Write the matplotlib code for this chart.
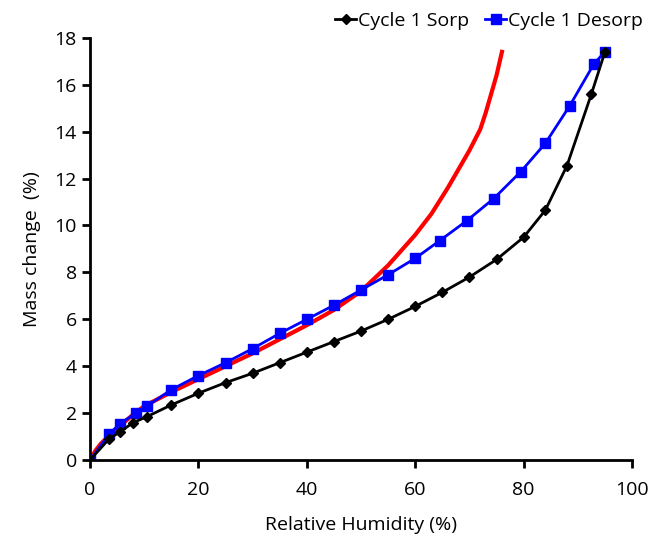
import numpy as np
import matplotlib.pyplot as plt

plt.rcParams['font.family'] = ['Open Sans', 'DejaVu Sans']

# sorption cycle 1 (black diamonds)
sorp_rh = [0, 3.5, 5.5, 8, 10.5, 15, 20, 25, 30, 35, 40, 45, 50, 55, 60, 65, 70, 75, 80, 84, 88, 92.5, 95]
sorp_mass = [0, 0.9, 1.2, 1.6, 1.85, 2.35, 2.85, 3.3, 3.7, 4.15, 4.6, 5.05, 5.5, 6.0, 6.55, 7.15, 7.8, 8.55, 9.5, 10.65, 12.55, 15.6, 17.4]

# desorption cycle 1 (blue squares)
desorp_rh = [95, 93, 88.5, 84, 79.5, 74.5, 69.5, 64.5, 60, 55, 50, 45, 40, 35, 30, 25, 20, 15, 10.5, 8.5, 5.5, 3.5, 0]
desorp_mass = [17.4, 16.9, 15.1, 13.5, 12.3, 11.15, 10.2, 9.35, 8.6, 7.9, 7.25, 6.6, 6.0, 5.4, 4.75, 4.15, 3.6, 3.0, 2.3, 2.0, 1.55, 1.1, 0]

# fitted model (red)
fit_rh = [0, 1, 2, 4, 6, 8, 10, 15, 20, 25, 30, 35, 40, 45, 50, 55, 60, 63, 66, 68, 70, 72, 73, 74, 75, 76]
fit_mass = [0, 0.4, 0.7, 1.15, 1.55, 1.95, 2.3, 2.9, 3.45, 4.0, 4.55, 5.15, 5.75, 6.4, 7.2, 8.3, 9.6, 10.5, 11.6, 12.4, 13.2, 14.1, 14.8, 15.6, 16.4, 17.4]

fig = plt.figure(figsize=(6.57, 5.4), dpi=100)
ax = fig.add_axes([0.137, 0.148, 0.825, 0.782])

ax.plot(fit_rh, fit_mass, color='#ff0000', lw=3, zorder=2)
ax.plot(desorp_rh, desorp_mass, color='#0000ff', lw=2, marker='s', ms=7,
        label='Cycle 1 Desorp', zorder=3)
ax.plot(sorp_rh, sorp_mass, color='black', lw=2, marker='D', ms=5,
        label='Cycle 1 Sorp', zorder=4)

ax.set_xlim(0, 100)
ax.set_ylim(0, 18)
ax.set_xticks(np.arange(0, 101, 20))
ax.set_yticks(np.arange(0, 19, 2))
ax.tick_params(direction='out', length=6, width=2, labelsize=14)
ax.tick_params(axis='x', pad=9)
for s in ['top', 'right']:
    ax.spines[s].set_visible(False)
for s in ['left', 'bottom']:
    ax.spines[s].set_linewidth(2)

ax.set_xlabel('Relative Humidity (%)', fontsize=14, labelpad=12)
ax.set_ylabel('Mass change  (%)', fontsize=14, labelpad=10)

h, l = ax.get_legend_handles_labels()
ax.legend(h[::-1], l[::-1], loc='lower right', bbox_to_anchor=(1.035, 1.0), ncol=2,
          frameon=False, fontsize=14, handlelength=1.1, handletextpad=0.1,
          columnspacing=0.8, borderaxespad=0)

fig.savefig('out.png')
